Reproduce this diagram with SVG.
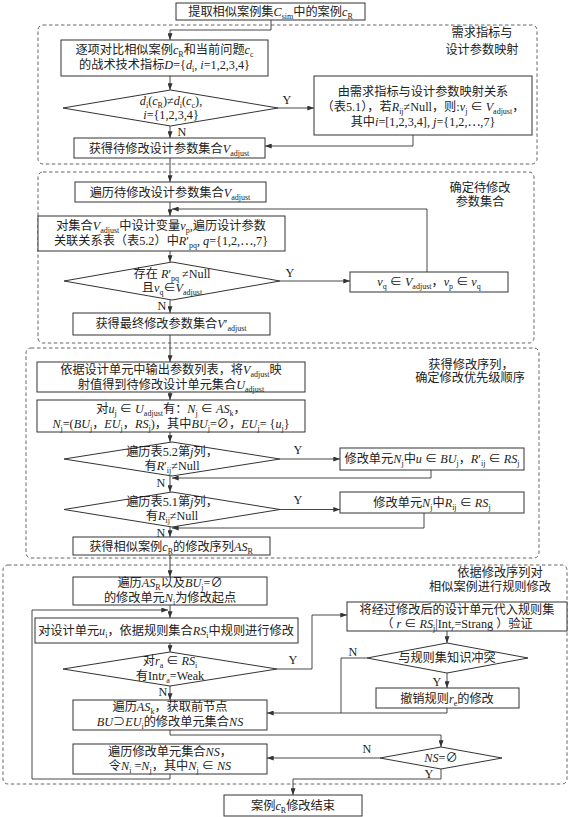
<svg xmlns="http://www.w3.org/2000/svg" width="570" height="817" viewBox="0 0 570 817">
<style>
.bx{fill:#fff;stroke:#333;stroke-width:1}
.sec{fill:none;stroke:#555;stroke-width:0.9;stroke-dasharray:3.5,2.5}
.ln{fill:none;stroke:#333;stroke-width:0.9;marker-end:url(#ah)}
.lp{fill:none;stroke:#333;stroke-width:0.9}
text{font-family:"Liberation Serif","Noto Sans CJK SC",serif;font-size:12.2px;fill:#222;text-anchor:middle}
.i{font-style:italic}
.b{font-size:8px;baseline-shift:-2.5px}
</style>
<defs>
<marker id="ah" viewBox="0 0 8 6" markerWidth="7" markerHeight="5" refX="8" refY="3" orient="auto" markerUnits="userSpaceOnUse">
<path d="M0,0 L8,3 L0,6 z" fill="#333"/>
</marker>
</defs>

<g id="sections">
<rect class="sec" x="38" y="25" width="499" height="139" rx="5"/>
<text x="482" y="37">需求指标与</text>
<text x="482" y="54">设计参数映射</text>
<rect class="sec" x="38" y="172" width="496" height="171" rx="5"/>
<text x="480" y="192">确定待修改</text>
<text x="480" y="206">参数集合</text>
<rect class="sec" x="26" y="348" width="513" height="210" rx="5"/>
<text x="471" y="369">获得修改序列，</text>
<text x="470" y="382">确定修改优先级顺序</text>
<rect class="sec" x="3" y="565" width="564" height="219" rx="5"/>
<text x="500" y="577">依据修改序列对</text>
<text x="490" y="591">相似案例进行规则修改</text>
</g>

<g id="connectors">
<path class="ln" d="M271,20 V30 H170 V40"/>
<path class="ln" d="M170,76 V90"/>
<path class="ln" d="M278,108 H314"/>
<path class="ln" d="M170,126 V138"/>
<path class="ln" d="M413,135 V146 H265"/>
<path class="ln" d="M170,158 V182"/>
<path class="ln" d="M170,202 V216"/>
<path class="ln" d="M427,272 V209 H172"/>
<path class="ln" d="M170,251 V262"/>
<path class="ln" d="M280,281 H350"/>
<path class="ln" d="M170,300 V313"/>
<path class="ln" d="M170,335 V362"/>
<path class="ln" d="M170,392 V400"/>
<path class="ln" d="M170,432 V442"/>
<path class="ln" d="M280,459 H340"/>
<path class="ln" d="M431,470 V478 H172"/>
<path class="ln" d="M170,476 V492"/>
<path class="ln" d="M280,509.5 H340"/>
<path class="ln" d="M424,513 V528 H172"/>
<path class="ln" d="M170,527 V537"/>
<path class="ln" d="M170,555 V577"/>
<path class="ln" d="M170,605 V618"/>
<path class="ln" d="M170,643 V652"/>
<path class="ln" d="M277,669 H312 V615 H347"/>
<path class="ln" d="M447,631 V643"/>
<path class="ln" d="M367,658 H341 V713 H267"/>
<path class="ln" d="M447,673 V688"/>
<path class="lp" d="M447,708 V713 H341"/>
<path class="ln" d="M170,686 V700"/>
<path class="ln" d="M170,730 V735 H441 V747"/>
<path class="ln" d="M380,758 H267"/>
<path class="ln" d="M170,774 V779 H32 V610 H168"/>
<path class="ln" d="M441,769 V779 H293 V795"/>
<text x="287" y="104">Y</text>
<text x="182" y="136">N</text>
<text x="290" y="277">Y</text>
<text x="162" y="310">N</text>
<text x="298" y="454">Y</text>
<text x="161" y="487">N</text>
<text x="298" y="504">Y</text>
<text x="161" y="537">N</text>
<text x="293" y="664">Y</text>
<text x="163" y="696">N</text>
<text x="353" y="656">N</text>
<text x="437" y="686">Y</text>
<text x="367" y="753">N</text>
<text x="429" y="778">Y</text>
</g>

<g id="n1"><rect class="bx" x="176" y="3" width="189" height="17"/>
<text x="270.5" y="15.5">提取相似案例集<tspan class="i">C</tspan><tspan class="b">sim</tspan>中的案例<tspan class="i">c</tspan><tspan class="b">R</tspan></text></g>

<g id="n2"><rect class="bx" x="61" y="40" width="207" height="36"/>
<text x="164.5" y="54">逐项对比相似案例<tspan class="i">c</tspan><tspan class="b">R</tspan>和当前问题<tspan class="i">c</tspan><tspan class="b">c</tspan></text>
<text x="164.5" y="69">的战术技术指标<tspan class="i">D</tspan>={<tspan class="i">d</tspan><tspan class="b">i</tspan>, <tspan class="i">i</tspan>=1,2,3,4}</text></g>

<g id="n3"><polygon class="bx" points="63,108 170.5,90 278,108 170.5,126"/>
<text x="171" y="104.5"><tspan class="i">d</tspan><tspan class="b">i</tspan>(<tspan class="i">c</tspan><tspan class="b">R</tspan>)≠<tspan class="i">d</tspan><tspan class="b">i</tspan>(<tspan class="i">c</tspan><tspan class="b">c</tspan>),</text>
<text x="171" y="119"><tspan class="i">i</tspan>={1,2,3,4}</text></g>

<g id="n4"><rect class="bx" x="314" y="76" width="218" height="59"/>
<text x="423" y="96">由需求指标与设计参数映射关系</text>
<text x="423" y="110.5">（表5.1），若<tspan class="i">R</tspan><tspan class="b">ij</tspan>≠Null，则:<tspan class="i">v</tspan><tspan class="b">j</tspan> ∈ <tspan class="i">V</tspan><tspan class="b">adjust</tspan>，</text>
<text x="423" y="125.5">其中<tspan class="i">i</tspan>=[1,2,3,4], <tspan class="i">j</tspan>={1,2,⋯,7}</text></g>

<g id="n5"><rect class="bx" x="74" y="138" width="191" height="20"/>
<text x="169" y="152.5">获得待修改设计参数集合<tspan class="i">V</tspan><tspan class="b">adjust</tspan></text></g>

<g id="n6"><rect class="bx" x="75" y="182" width="191" height="20"/>
<text x="170" y="196.5">遍历待修改设计参数集合<tspan class="i">V</tspan><tspan class="b">adjust</tspan></text></g>

<g id="n7"><rect class="bx" x="38" y="216" width="247" height="35"/>
<text x="161" y="230">对集合<tspan class="i">V</tspan><tspan class="b">adjust</tspan>中设计变量<tspan class="i">v</tspan><tspan class="b">p</tspan>,遍历设计参数</text>
<text x="161" y="245">关联关系表（表5.2）中<tspan class="i">R</tspan>′<tspan class="b">pq</tspan>, <tspan class="i">q</tspan>={1,2,⋯,7}</text></g>

<g id="n8"><polygon class="bx" points="64,281 172,262 280,281 172,300"/>
<text x="172" y="277.5">存在 <tspan class="i">R</tspan>′<tspan class="b">pq</tspan> ≠Null</text>
<text x="172" y="292">且<tspan class="i">v</tspan><tspan class="b">q</tspan>∈<tspan class="i">V</tspan><tspan class="b">adjust</tspan></text></g>

<g id="n9"><rect class="bx" x="350" y="272" width="158" height="20"/>
<text x="429" y="286"><tspan class="i">v</tspan><tspan class="b">q</tspan> ∈ <tspan class="i">V</tspan><tspan class="b">adjust</tspan>，<tspan class="i">v</tspan><tspan class="b">p</tspan> ∈ <tspan class="i">v</tspan><tspan class="b">q</tspan></text></g>

<g id="n10"><rect class="bx" x="73" y="313" width="197" height="22"/>
<text x="171" y="328">获得最终修改参数集合<tspan class="i">V</tspan>′<tspan class="b">adjust</tspan></text></g>

<g id="n11"><rect class="bx" x="37" y="362" width="268" height="30"/>
<text x="171" y="374">依据设计单元中输出参数列表，将<tspan class="i">V</tspan><tspan class="b">adjust</tspan>映</text>
<text x="171" y="388.5">射值得到待修改设计单元集合<tspan class="i">U</tspan><tspan class="b">adjust</tspan></text></g>

<g id="n12"><rect class="bx" x="37" y="400" width="268" height="32"/>
<text x="171" y="413">对<tspan class="i">u</tspan><tspan class="b">j</tspan> ∈ <tspan class="i">U</tspan><tspan class="b">adjust</tspan>有：<tspan class="i">N</tspan><tspan class="b">j</tspan> ∈ <tspan class="i">AS</tspan><tspan class="b">k</tspan>，</text>
<text x="171" y="428"><tspan class="i">N</tspan><tspan class="b">j</tspan>=(<tspan class="i">BU</tspan><tspan class="b">j</tspan>，<tspan class="i">EU</tspan><tspan class="b">j</tspan>，<tspan class="i">RS</tspan><tspan class="b">j</tspan>)，其中<tspan class="i">BU</tspan><tspan class="b">j</tspan>=∅，<tspan class="i">EU</tspan><tspan class="b">j</tspan>= {<tspan class="i">u</tspan><tspan class="b">j</tspan>}</text></g>

<g id="n13"><polygon class="bx" points="64,459 172,442 280,459 172,476"/>
<text x="172" y="455.5">遍历表5.2第<tspan class="i">j</tspan>列，</text>
<text x="172" y="470">有<tspan class="i">R</tspan>′<tspan class="b">ij</tspan>≠Null</text></g>

<g id="n14"><rect class="bx" x="340" y="448" width="184" height="22"/>
<text x="432" y="463">修改单元<tspan class="i">N</tspan><tspan class="b">j</tspan>中<tspan class="i">u</tspan> ∈ <tspan class="i">BU</tspan><tspan class="b">j</tspan>，<tspan class="i">R</tspan>′<tspan class="b">ij</tspan> ∈ <tspan class="i">RS</tspan><tspan class="b">j</tspan></text></g>

<g id="n15"><polygon class="bx" points="64,509.5 172,492 280,509.5 172,527"/>
<text x="172" y="505.5">遍历表5.1第<tspan class="i">j</tspan>列，</text>
<text x="172" y="520">有<tspan class="i">R</tspan><tspan class="b">ij</tspan>≠Null</text></g>

<g id="n16"><rect class="bx" x="340" y="492" width="184" height="21"/>
<text x="432" y="506.5">修改单元<tspan class="i">N</tspan><tspan class="b">j</tspan>中<tspan class="i">R</tspan><tspan class="b">ij</tspan> ∈ <tspan class="i">RS</tspan><tspan class="b">j</tspan></text></g>

<g id="n17"><rect class="bx" x="73" y="537" width="197" height="18"/>
<text x="171" y="550.5">获得相似案例<tspan class="i">c</tspan><tspan class="b">R</tspan>的修改序列<tspan class="i">AS</tspan><tspan class="b">R</tspan></text></g>

<g id="n18"><rect class="bx" x="73" y="577" width="194" height="28"/>
<text x="170" y="587">遍历<tspan class="i">AS</tspan><tspan class="b">R</tspan>以及<tspan class="i">BU</tspan><tspan class="b">j</tspan>=∅</text>
<text x="170" y="601.5">的修改单元<tspan class="i">N</tspan><tspan class="b">i</tspan>为修改起点</text></g>

<g id="n19"><rect class="bx" x="35" y="618" width="263" height="25"/>
<text x="166" y="634.5">对设计单元<tspan class="i">u</tspan><tspan class="b">i</tspan>，依据规则集合<tspan class="i">RS</tspan><tspan class="b">i</tspan>中规则进行修改</text></g>

<g id="n20"><polygon class="bx" points="63,669 170,652 277,669 170,686"/>
<text x="170" y="665">对<tspan class="i">r</tspan><tspan class="b">a</tspan> ∈ <tspan class="i">RS</tspan><tspan class="b">i</tspan></text>
<text x="170" y="679.5">有Int<tspan class="i">r</tspan><tspan class="b">a</tspan>=Weak</text></g>

<g id="n21"><rect class="bx" x="347" y="602" width="220" height="29"/>
<text x="457" y="614">将经过修改后的设计单元代入规则集</text>
<text x="457" y="628">（ <tspan class="i">r</tspan> ∈ <tspan class="i">RS</tspan><tspan class="b">j</tspan>|Int<tspan class="b i">r</tspan>=Strang ）验证</text></g>

<g id="n22"><polygon class="bx" points="367,658 447,643 528,658 447,673"/>
<text x="447" y="662">与规则集知识冲突</text></g>

<g id="n23"><rect class="bx" x="376" y="688" width="143" height="20"/>
<text x="447" y="702.5">撤销规则<tspan class="i">r</tspan><tspan class="b">e</tspan>的修改</text></g>

<g id="n24"><rect class="bx" x="73" y="700" width="194" height="30"/>
<text x="170" y="711">遍历<tspan class="i">AS</tspan><tspan class="b">k</tspan>，获取前节点</text>
<text x="170" y="726"><tspan class="i">BU</tspan>⊃<tspan class="i">EU</tspan><tspan class="b">i</tspan>的修改单元集合<tspan class="i">NS</tspan></text></g>

<g id="n25"><polygon class="bx" points="380,758 441,747 502,758 441,769"/>
<text x="441" y="762"><tspan class="i">NS</tspan>=∅</text></g>

<g id="n26"><rect class="bx" x="73" y="744" width="194" height="30"/>
<text x="170" y="755.5">遍历修改单元集合<tspan class="i">NS</tspan>，</text>
<text x="170" y="770">令<tspan class="i">N</tspan><tspan class="b">i</tspan> =<tspan class="i">N</tspan><tspan class="b">j</tspan>，其中<tspan class="i">N</tspan><tspan class="b">j</tspan> ∈ <tspan class="i">NS</tspan></text></g>

<g id="n27"><rect class="bx" x="224" y="795" width="138" height="21"/>
<text x="293" y="809.5">案例<tspan class="i">c</tspan><tspan class="b">R</tspan>修改结束</text></g>
</svg>
